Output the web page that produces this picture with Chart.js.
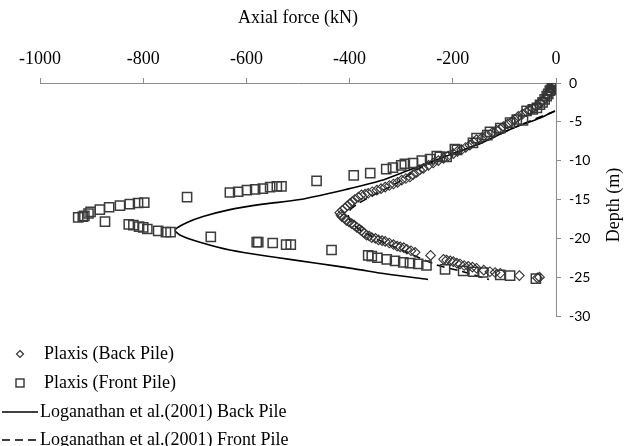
<!DOCTYPE html>
<html>
<head>
<meta charset="utf-8">
<script src="https://cdn.jsdelivr.net/npm/chart.js@4.4.1/dist/chart.umd.min.js"></script>
<style>
  html, body { margin: 0; padding: 0; background: #fff; }
</style>
</head>
<body>
<canvas id="axialChart" width="627" height="446"></canvas>
<script>
// Plaxis results, back pile (axial force kN, depth m)
var backPileForce = [0, -3, -5, -8, -12, -16, -21, -26, -31, -38, -45, -51, -57, -65, -73, -80, -86, -94, -102, -108,
    -115, -124, -134, -143, -154, -160, -167, -175, -183, -191, -199, -209, -218, -228, -238, -247, -257, -264, -270, -277,
    -283, -291, -299, -307, -315, -323, -331, -339, -347, -356, -364, -370, -377, -383, -390, -395, -399, -404, -409, -414,
    -419, -417, -415, -410, -406, -401, -396, -391, -386, -381, -377, -372, -367, -362, -357, -350, -344, -337, -331, -323,
    -315, -308, -302, -295, -289, -281, -273, -243, -218, -212, -205, -199, -192, -186, -178, -170, -162, -154, -140, -128,
    -118, -108, -71, -36, -32];
var backPileDepth = [0, -0.2, -0.5, -0.8, -1.1, -1.5, -2.0, -2.3, -2.6, -3.0, -3.3, -3.5, -3.7, -4.0, -4.3, -4.7, -5.0, -5.3, -5.6, -5.9,
    -6.1, -6.4, -6.7, -7.0, -7.3, -7.6, -8.0, -8.3, -8.6, -8.8, -9.1, -9.4, -9.7, -10.0, -10.3, -10.6, -11.0, -11.2, -11.5, -11.8,
    -12.1, -12.3, -12.5, -12.8, -13.0, -13.2, -13.4, -13.6, -13.8, -14.0, -14.2, -14.3, -14.4, -14.7, -15.0, -15.3, -15.5, -15.8, -16.1, -16.4,
    -16.7, -17.0, -17.2, -17.4, -17.7, -17.9, -18.1, -18.3, -18.6, -18.8, -19.0, -19.3, -19.6, -19.7, -19.9, -20.0, -20.2, -20.3, -20.4, -20.6,
    -20.8, -21.0, -21.1, -21.2, -21.4, -21.6, -21.8, -22.2, -22.7, -22.8, -22.9, -23.0, -23.2, -23.3, -23.5, -23.6, -23.7, -23.85, -24.1, -24.3,
    -24.4, -24.5, -24.8, -25.1, -25.0];

// Plaxis results, front pile
var frontPileForce = [0, -2, -4, -6, -8, -10, -12, -15, -18, -22, -26, -31, -37, -45, -57, -64, -76, -89, -108, -128,
    -133, -154, -161, -192, -196, -212, -225, -231, -244, -260, -277, -293, -300, -316, -329, -360, -392, -464, -532, -541,
    -554, -568, -583, -599, -616, -632, -715, -798, -810, -826, -845, -866, -884, -902, -906, -914, -917, -926, -874, -828,
    -819, -808, -800, -792, -771, -756, -747, -669, -580, -577, -549, -523, -514, -435, -364, -357, -346, -328, -312, -296,
    -283, -267, -251, -215, -180, -160, -141, -108, -89, -39];
var frontPileDepth = [0, -0.1, -0.3, -0.2, -0.6, -0.9, -1.0, -1.4, -1.7, -2.1, -2.5, -2.8, -3.2, -3.4, -3.6, -4.8, -4.7, -5.1, -5.8, -6.3,
    -6.7, -7.1, -7.7, -8.6, -8.5, -9.5, -9.5, -9.4, -9.8, -10.0, -10.3, -10.4, -10.6, -10.9, -11.1, -11.6, -11.9, -12.6, -13.3, -13.3,
    -13.4, -13.6, -13.7, -13.8, -14.0, -14.1, -14.7, -15.4, -15.45, -15.6, -15.8, -16.0, -16.3, -16.6, -16.8, -17.1, -17.2, -17.3, -17.85, -18.2,
    -18.3, -18.5, -18.6, -18.8, -19.05, -19.2, -19.2, -19.8, -20.5, -20.5, -20.6, -20.8, -20.8, -21.5, -22.2, -22.3, -22.5, -22.7, -22.9, -23.1,
    -23.2, -23.3, -23.5, -24.0, -24.2, -24.3, -24.4, -24.7, -24.8, -25.2];

// Loganathan et al. (2001)
var logBackForce = [-2, -31, -83, -147, -212, -277, -341, -400, -496, -568, -632, -684, -716, -738, -728, -690, -632, -548, -464, -393, -328, -248];
var logBackDepth = [-3.6, -4.5, -5.8, -7.8, -9.4, -11.0, -12.6, -13.6, -15.0, -15.6, -16.3, -17.2, -18.0, -18.9, -19.6, -20.5, -21.5, -22.4, -23.2, -23.9, -24.6, -25.3];
var logFrontForce = [-2, -83, -147, -212, -265, -312, -350, -385, -402, -400, -382, -350, -300, -232, -180, -130];
var logFrontDepth = [-3.6, -5.8, -7.8, -9.4, -11.0, -13.0, -14.3, -15.6, -16.6, -17.6, -18.8, -20.0, -21.5, -23.4, -24.3, -25.3];

var legendLabels = ['Plaxis (Back Pile)', 'Plaxis (Front Pile)', 'Loganathan et al.(2001) Back Pile', 'Loganathan et al.(2001) Front Pile'];

function toPoints(xs, ys) {
    var pts = [];
    for (var i = 0; i < xs.length; i++) pts.push({ x: xs[i], y: ys[i] });
    return pts;
}

var serif = '"Liberation Serif", "Times New Roman", serif';
var axisGray = '#8c8c8c';

// legend at bottom left + rotated y title
var extrasPlugin = {
    id: 'extras',
    afterDraw: function (chart) {
        var ctx = chart.ctx;
        ctx.save();
        ctx.fillStyle = '#000';
        ctx.font = '18px ' + serif;
        ctx.textBaseline = 'middle';

        // y axis title
        ctx.save();
        ctx.translate(614, 205);
        ctx.rotate(-Math.PI / 2);
        ctx.textAlign = 'center';
        ctx.fillText('Depth (m)', 0, 0);
        ctx.restore();

        var rows = [354, 383, 412, 440];
        ctx.textAlign = 'left';
        for (var i = 0; i < legendLabels.length; i++) {
            ctx.fillText(legendLabels[i], i < 2 ? 44 : 40, rows[i]);
        }
        ctx.strokeStyle = '#333';
        ctx.lineWidth = 1.2;
        // diamond
        ctx.beginPath();
        ctx.moveTo(20, rows[0] - 3.5); ctx.lineTo(23.5, rows[0]); ctx.lineTo(20, rows[0] + 3.5); ctx.lineTo(16.5, rows[0]);
        ctx.closePath(); ctx.stroke();
        // square
        ctx.lineWidth = 1.4;
        ctx.strokeRect(16, rows[1] - 4, 8, 8);
        // lines
        ctx.strokeStyle = '#000';
        ctx.lineWidth = 1.5;
        ctx.beginPath(); ctx.moveTo(2, rows[2]); ctx.lineTo(38, rows[2]); ctx.stroke();
        ctx.setLineDash([8, 5]);
        ctx.beginPath(); ctx.moveTo(2, rows[3]); ctx.lineTo(38, rows[3]); ctx.stroke();
        ctx.restore();
    }
};

var ctx = document.getElementById('axialChart').getContext('2d');
var axialChart = new Chart(ctx, {
    type: 'scatter',
    data: {
        datasets: [{
            label: legendLabels[0],
            data: toPoints(backPileForce, backPileDepth),
            pointStyle: 'rectRot',
            pointRadius: 4.8,
            borderColor: '#333',
            borderWidth: 1.1,
            backgroundColor: 'rgba(255,255,255,0)'
        }, {
            label: legendLabels[1],
            data: toPoints(frontPileForce, frontPileDepth),
            pointStyle: 'rect',
            pointRadius: 6.5,
            borderColor: '#3c3c3c',
            borderWidth: 1.5,
            backgroundColor: 'rgba(255,255,255,0)'
        }, {
            label: legendLabels[2],
            data: toPoints(logBackForce, logBackDepth),
            showLine: true,
            pointRadius: 0,
            borderColor: '#000',
            borderWidth: 1.6,
            tension: 0.3
        }, {
            label: legendLabels[3],
            data: toPoints(logFrontForce, logFrontDepth),
            showLine: true,
            pointRadius: 0,
            borderColor: '#000',
            borderWidth: 1.6,
            borderDash: [8, 5],
            tension: 0.3
        }]
    },
    options: {
        responsive: false,
        animation: false,
        layout: { padding: { left: 40, right: 0, top: 0, bottom: 130 } },
        plugins: {
            legend: { display: false },
            tooltip: { enabled: false }
        },
        scales: {
            x: {
                type: 'linear',
                position: 'top',
                min: -1000,
                max: 0,
                ticks: {
                    stepSize: 200, color: '#000', font: { family: serif, size: 18 }, padding: 8, maxRotation: 0,
                    callback: function (v) { return String(v); }
                },
                grid: { drawOnChartArea: false, drawTicks: true, tickLength: 5, color: axisGray },
                border: { color: axisGray, width: 1 },
                title: { display: true, text: 'Axial force (kN)', color: '#000', font: { family: serif, size: 18 }, padding: { top: 7, bottom: 0 } },
                afterFit: function (scale) { scale.height = 83; }
            },
            y: {
                type: 'linear',
                position: 'right',
                min: -30,
                max: 0,
                ticks: { stepSize: 5, color: '#000', font: { family: 'Lato', size: 14 }, padding: 8 },
                grid: { drawOnChartArea: false, drawTicks: true, tickLength: 5, color: axisGray },
                border: { color: axisGray, width: 1 },
                afterFit: function (scale) { scale.width = 71; }
            }
        }
    },
    plugins: [extrasPlugin]
});
</script>
</body>
</html>
